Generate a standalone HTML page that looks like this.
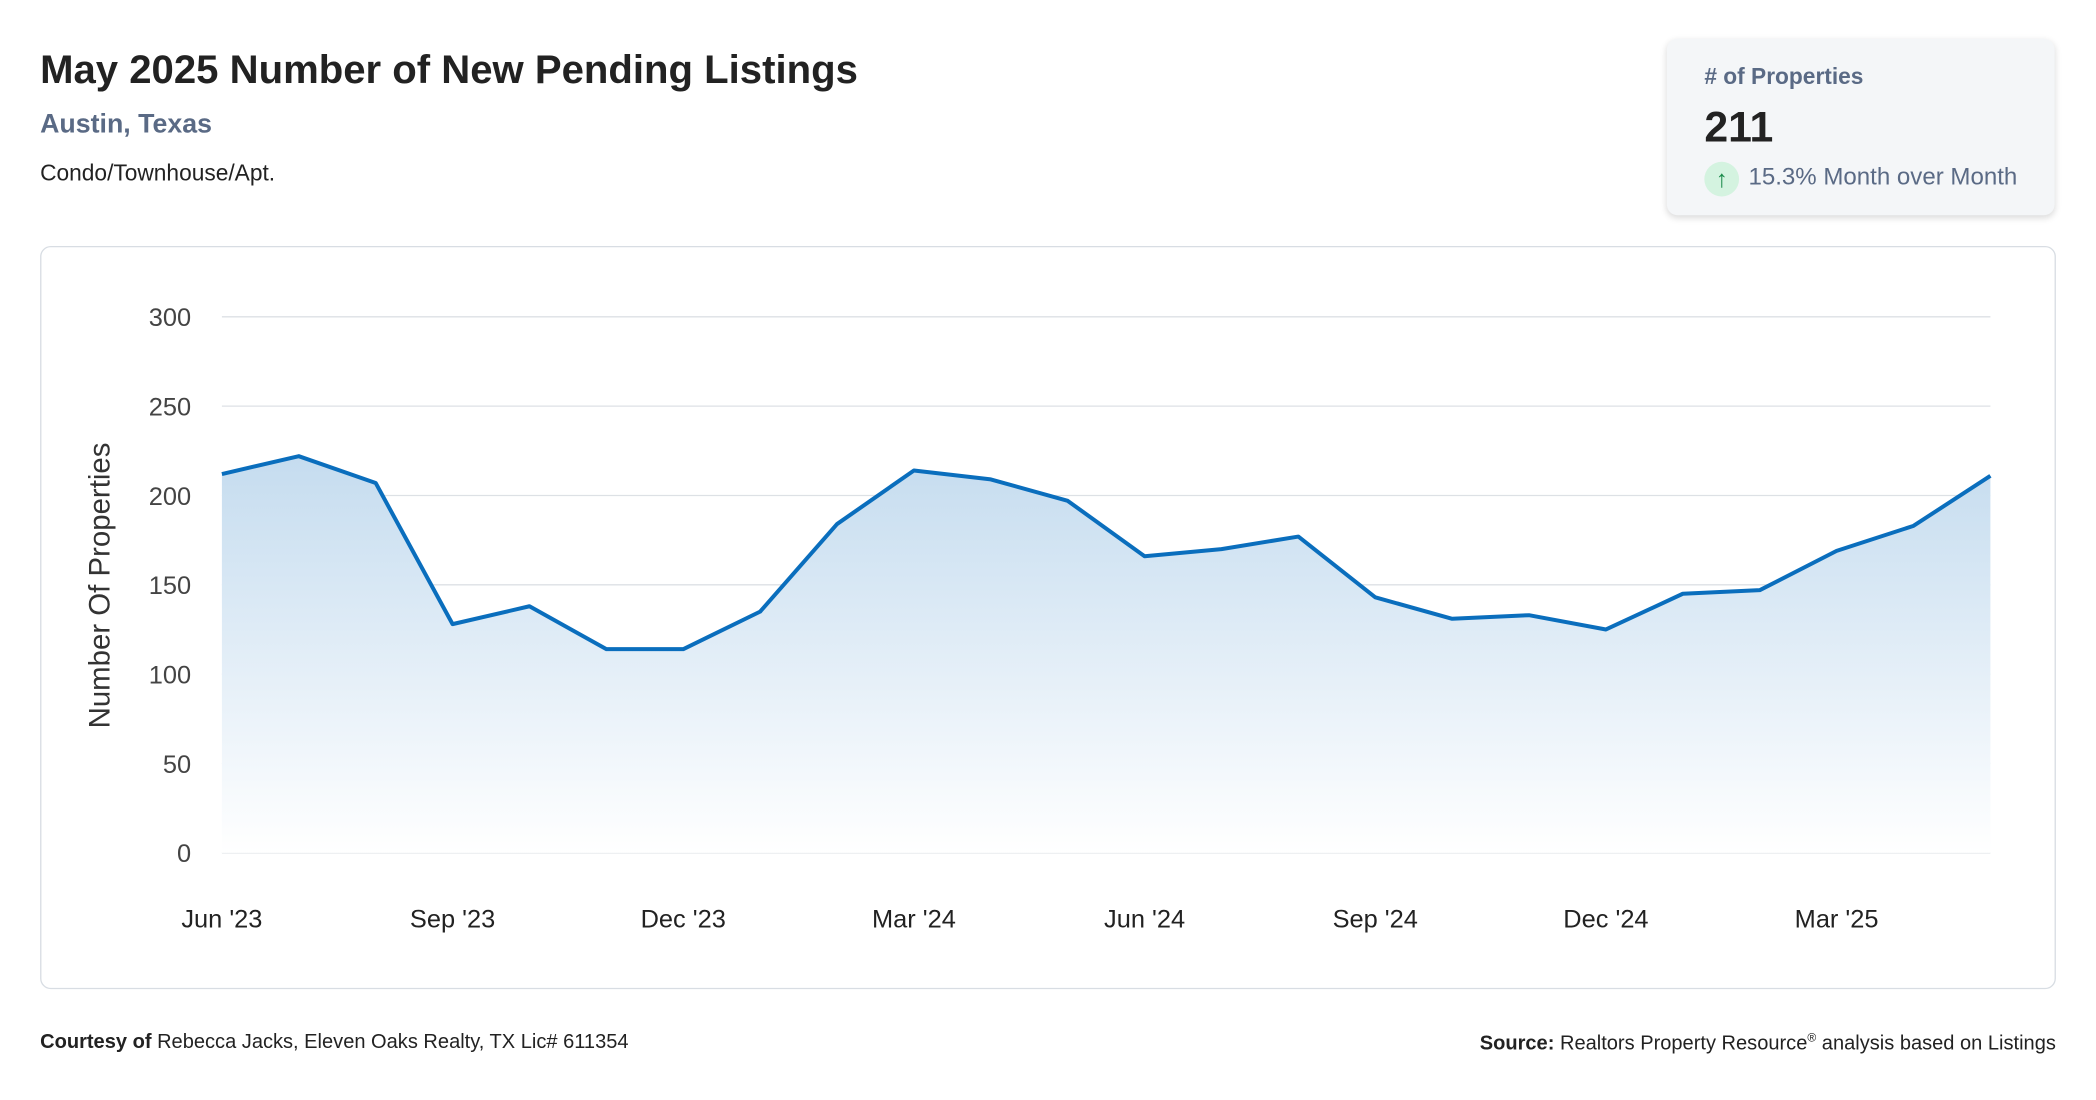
<!DOCTYPE html>
<html><head><meta charset="utf-8">
<style>
html,body{margin:0;padding:0;background:#fff;width:2096px;height:1100px;overflow:hidden;font-family:"Liberation Sans",Arial,sans-serif;}
#wrap{position:absolute;left:0;top:0;width:1568px;height:823px;transform:scale(1.33673);transform-origin:0 0;}
.abs{position:absolute;}
</style></head><body>
<div id="wrap">
<div class="abs" style="left:30px;top:36px;font-size:30px;font-weight:bold;color:#222;">May 2025 Number of New Pending Listings</div>
<div class="abs" style="left:30px;top:82px;font-size:20px;font-weight:bold;color:#5a6a85;">Austin, Texas</div>
<div class="abs" style="left:30px;top:120px;font-size:17px;color:#222;">Condo/Townhouse/Apt.</div>
<div class="abs" style="left:1247px;top:29px;width:290px;height:132px;background:#f4f6f8;border-radius:8px;box-shadow:0 2px 5px rgba(0,0,0,0.15);">
  <div class="abs" style="left:28px;top:19px;font-size:17px;font-weight:bold;color:#5a6a85;"># of Properties</div>
  <div class="abs" style="left:28px;top:48px;font-size:32px;font-weight:bold;color:#222;">211</div>
  <div class="abs" style="left:28px;top:92px;width:26px;height:26px;border-radius:13px;background:#d4f3e0;color:#1a8a4a;font-size:18px;text-align:center;line-height:26px;">↑</div>
  <div class="abs" style="left:61px;top:93px;font-size:18px;color:#5a6a85;">15.3% Month over Month</div>
</div>
<div class="abs" style="left:30px;top:184px;width:1506px;height:554px;border:1px solid #d8dde3;border-radius:8px;"></div>
<svg class="abs" style="left:0;top:0" width="1568" height="823" id="chart">
  <defs><linearGradient id="g" x1="0" y1="0" x2="0" y2="1"><stop offset="0" stop-color="#c5dcef"/><stop offset="1" stop-color="#ffffff"/></linearGradient></defs>
  <g id="grid"></g><path id="area" fill="url(#g)"/><path id="line" fill="none" stroke="#0a6ebd" stroke-width="3" stroke-linejoin="round"/><g id="xl"></g>
  <text x="82" y="438" transform="rotate(-90 82 438)" text-anchor="middle" font-size="22" fill="#333" font-family="Liberation Sans, sans-serif">Number Of Properties</text>
</svg>
<div class="abs" style="left:30px;top:771px;font-size:15px;color:#222;"><b>Courtesy of</b> Rebecca Jacks, Eleven Oaks Realty, TX Lic# 611354</div>
<div class="abs" style="right:30px;top:771px;font-size:15px;color:#222;"><b>Source:</b> Realtors Property Resource<sup style="font-size:9px">®</sup> analysis based on Listings</div>
</div>
<script>
const months=["Jun '23","Jul '23","Aug '23","Sep '23","Oct '23","Nov '23","Dec '23","Jan '24","Feb '24","Mar '24","Apr '24","May '24","Jun '24","Jul '24","Aug '24","Sep '24","Oct '24","Nov '24","Dec '24","Jan '25","Feb '25","Mar '25","Apr '25","May '25"];
const values=[212,222,207,128,138,114,114,135,184,214,209,197,166,170,177,143,131,133,125,145,147,169,183,211];
const yTicks=[0,50,100,150,200,250,300];
const xLabelIdx=[0,3,6,9,12,15,18,21];
const NS="http://www.w3.org/2000/svg";
const x0=166,x1=1489,yb=638,yt=237;
const xs=i=>x0+(x1-x0)*i/(months.length-1);
const ys=v=>yb-(yb-yt)*v/300;
const grid=document.getElementById('grid');
yTicks.forEach(t=>{
 const l=document.createElementNS(NS,'line');
 l.setAttribute('x1',x0);l.setAttribute('x2',x1);l.setAttribute('y1',ys(t));l.setAttribute('y2',ys(t));
 l.setAttribute('stroke','#dde1e5');l.setAttribute('stroke-width','1');
 
 
 grid.appendChild(l);
 const tx=document.createElementNS(NS,'text');
 tx.setAttribute('x',143);tx.setAttribute('y',ys(t)+7);tx.setAttribute('text-anchor','end');
 tx.setAttribute('font-size','19');tx.setAttribute('fill','#444');tx.setAttribute('font-family','Liberation Sans, sans-serif');
 tx.textContent=t;
 
 
 grid.appendChild(tx);
});
let d='';values.forEach((v,i)=>{d+=(i?'L':'M')+xs(i)+','+ys(v);});
document.getElementById('line').setAttribute('d',d);
document.getElementById('area').setAttribute('d',d+'L'+xs(values.length-1)+','+yb+'L'+xs(0)+','+yb+'Z');
const xl=document.getElementById('xl');
xLabelIdx.forEach(i=>{
 const tx=document.createElementNS(NS,'text');
 tx.setAttribute('x',xs(i));tx.setAttribute('y',694);tx.setAttribute('text-anchor','middle');
 tx.setAttribute('font-size','19');tx.setAttribute('fill','#222');tx.setAttribute('font-family','Liberation Sans, sans-serif');
 tx.textContent=months[i];
 
 
 xl.appendChild(tx);
});
</script>
</body></html>
